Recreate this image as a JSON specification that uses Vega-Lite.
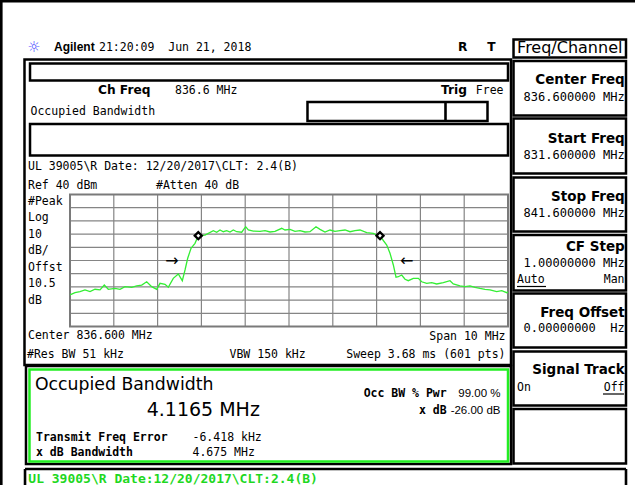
{
  "$schema": "https://vega.github.io/schema/vega-lite/v6.json",
  "width": 635,
  "height": 485,
  "autosize": {"type": "fit", "contains": "padding"},
  "padding": 0,
  "background": "white",
  "config": {"view": {"stroke": null}},
  "datasets": {
    "trace": [
      {"x":831.600,"y":-36.1},{"x":831.714,"y":-34.4},{"x":831.828,"y":-33.6},{"x":831.942,"y":-32.3},
      {"x":832.057,"y":-33.6},{"x":832.171,"y":-31.8},{"x":832.285,"y":-32.3},{"x":832.383,"y":-28.6},
      {"x":832.474,"y":-31.8},{"x":832.627,"y":-31.1},{"x":832.742,"y":-31.8},{"x":832.856,"y":-29.8},
      {"x":833.009,"y":-30.3},{"x":833.123,"y":-29.3},{"x":833.237,"y":-28.6},{"x":833.351,"y":-26.1},
      {"x":833.465,"y":-29.8},{"x":833.579,"y":-31.8},{"x":833.655,"y":-27.3},{"x":833.769,"y":-28.0},
      {"x":833.844,"y":-30.3},{"x":833.958,"y":-23.5},{"x":834.073,"y":-20.2},{"x":834.164,"y":-25.3},
      {"x":834.226,"y":-17.2},{"x":834.287,"y":-8.3},{"x":834.363,"y":-0.8},{"x":834.454,"y":3.0},
      {"x":834.529,"y":8.8},{"x":834.682,"y":9.3},{"x":834.872,"y":12.6},{"x":834.949,"y":11.4},
      {"x":835.025,"y":13.1},{"x":835.100,"y":11.8},{"x":835.178,"y":12.6},{"x":835.253,"y":11.6},
      {"x":835.328,"y":13.1},{"x":835.406,"y":11.8},{"x":835.520,"y":11.4},{"x":835.611,"y":15.6},
      {"x":835.671,"y":13.1},{"x":835.785,"y":12.3},{"x":835.938,"y":12.1},{"x":836.052,"y":12.6},
      {"x":836.166,"y":11.6},{"x":836.280,"y":12.1},{"x":836.433,"y":14.4},{"x":836.509,"y":13.1},
      {"x":836.623,"y":13.6},{"x":836.737,"y":12.1},{"x":836.851,"y":12.6},{"x":836.965,"y":11.6},
      {"x":837.079,"y":11.8},{"x":837.216,"y":15.6},{"x":837.308,"y":13.6},{"x":837.422,"y":11.6},
      {"x":837.536,"y":13.1},{"x":837.650,"y":12.1},{"x":837.764,"y":12.6},{"x":837.879,"y":13.1},
      {"x":837.993,"y":11.8},{"x":838.107,"y":12.6},{"x":838.221,"y":13.1},{"x":838.374,"y":11.1},
      {"x":838.525,"y":10.6},{"x":838.602,"y":9.3},{"x":838.716,"y":6.8},{"x":838.831,"y":1.7},
      {"x":838.906,"y":-4.5},{"x":838.982,"y":-13.4},{"x":839.043,"y":-22.7},{"x":839.096,"y":-22.3},
      {"x":839.173,"y":-21.0},{"x":839.249,"y":-24.2},{"x":839.324,"y":-25.3},{"x":839.438,"y":-23.5},
      {"x":839.553,"y":-23.5},{"x":839.630,"y":-26.1},{"x":839.744,"y":-27.3},{"x":839.858,"y":-26.8},
      {"x":839.972,"y":-27.8},{"x":840.123,"y":-26.8},{"x":840.276,"y":-25.3},{"x":840.351,"y":-27.8},
      {"x":840.504,"y":-29.3},{"x":840.618,"y":-29.8},{"x":840.732,"y":-29.3},{"x":840.847,"y":-30.3},
      {"x":840.961,"y":-31.1},{"x":841.075,"y":-31.8},{"x":841.189,"y":-32.3},{"x":841.342,"y":-33.6},
      {"x":841.457,"y":-32.9},{"x":841.570,"y":-34.4},{"x":841.600,"y":-33.6}
    ],
    "grid": [
      {"x":832.6,"x2":832.6,"y":-60,"y2":40},{"x":833.6,"x2":833.6,"y":-60,"y2":40},
      {"x":834.6,"x2":834.6,"y":-60,"y2":40},{"x":835.6,"x2":835.6,"y":-60,"y2":40},
      {"x":836.6,"x2":836.6,"y":-60,"y2":40},{"x":837.6,"x2":837.6,"y":-60,"y2":40},
      {"x":838.6,"x2":838.6,"y":-60,"y2":40},{"x":839.6,"x2":839.6,"y":-60,"y2":40},
      {"x":840.6,"x2":840.6,"y":-60,"y2":40},
      {"x":831.6,"x2":841.6,"y":30,"y2":30},{"x":831.6,"x2":841.6,"y":20,"y2":20},
      {"x":831.6,"x2":841.6,"y":10,"y2":10},{"x":831.6,"x2":841.6,"y":0,"y2":0},
      {"x":831.6,"x2":841.6,"y":-10,"y2":-10},{"x":831.6,"x2":841.6,"y":-20,"y2":-20},
      {"x":831.6,"x2":841.6,"y":-30,"y2":-30},{"x":831.6,"x2":841.6,"y":-40,"y2":-40},
      {"x":831.6,"x2":841.6,"y":-50,"y2":-50}
    ],
    "frames": [
      {"name":"main","x":830.561,"x2":841.669,"y":142.27,"y2":-89.17},
      {"name":"box1","x":830.687,"x2":841.6,"y":139.24,"y2":126.36},
      {"name":"box2","x":830.687,"x2":841.6,"y":93.41,"y2":69.55},
      {"name":"trigbox","x":837.022,"x2":841.132,"y":110.08,"y2":95.68},
      {"name":"menu","x":841.726,"x2":844.294,"y":157.42,"y2":143.79},
      {"name":"k1","x":841.726,"x2":844.294,"y":141.14,"y2":99.85},
      {"name":"k2","x":841.726,"x2":844.294,"y":97.58,"y2":55.91},
      {"name":"k3","x":841.726,"x2":844.294,"y":52.88,"y2":11.97},
      {"name":"k4","x":841.726,"x2":844.294,"y":9.32,"y2":-32.73},
      {"name":"k5","x":841.726,"x2":844.294,"y":-35.0,"y2":-75.91},
      {"name":"k6","x":841.726,"x2":844.294,"y":-78.94,"y2":-119.85},
      {"name":"k7","x":841.726,"x2":844.294,"y":-122.5,"y2":-163.79},
      {"name":"occ","x":830.595,"x2":841.669,"y":-89.92,"y2":-164.17}
    ],
    "rules": [
      {"x":830.0018,"x2":844.4995,"y":186.36,"y2":186.36},
      {"x":830.0315,"x2":830.0315,"y":187.35,"y2":-180.08},
      {"x":830.573,"x2":844.294,"y":-167.95,"y2":-167.95},
      {"x":830.573,"x2":830.573,"y":-167.95,"y2":-180.08},
      {"x":844.294,"x2":844.294,"y":-167.95,"y2":-180.08},
      {"x":840.173,"x2":840.173,"y":110.08,"y2":95.68}
    ]
  },
  "encoding": {
    "x": {"field":"x","type":"quantitative","scale":{"domain":[830.0018,844.4995],"nice":false,"zero":false},"axis":null},
    "y": {"field":"y","type":"quantitative","scale":{"domain":[-180.08,187.35],"nice":false,"zero":false},"axis":null}
  },
  "layer": [
    {
      "data": {"name":"grid"},
      "mark": {"type":"rule","color":"#858585","strokeWidth":1.2,"clip":true},
      "encoding": {"x2":{"field":"x2"},"y2":{"field":"y2"}}
    },
    {
      "data": {"values":[{"x":831.6,"x2":841.6,"y":40,"y2":-60}]},
      "mark": {"type":"rect","filled":false,"fill":"transparent","stroke":"#7a7a7a","strokeWidth":2,"clip":true},
      "encoding": {"x2":{"field":"x2"},"y2":{"field":"y2"}}
    },
    {
      "data": {"name":"trace"},
      "mark": {"type":"line","color":"#33ee33","strokeWidth":1.3,"clip":true}
    },
    {
      "data": {"values":[{"x":834.529,"y":8.8},{"x":838.678,"y":8.8}]},
      "mark": {"type":"point","shape":"diamond","filled":true,"fill":"white","stroke":"black","strokeWidth":2.3,"size":50,"opacity":1,"clip":true}
    },
    {
      "data": {"name":"frames"},
      "mark": {"type":"rect","filled":false,"fill":"transparent","stroke":"#000","strokeWidth":2.5,"clip":true},
      "encoding": {"x2":{"field":"x2"},"y2":{"field":"y2"}}
    },
    {
      "data": {"values":[{"x":830.675,"x2":841.6,"y":-92.58,"y2":-162.27}]},
      "mark": {"type":"rect","filled":false,"fill":"transparent","stroke":"#22ee22","strokeWidth":2.5,"clip":true},
      "encoding": {"x2":{"field":"x2"},"y2":{"field":"y2"}}
    },
    {
      "data": {"name":"rules"},
      "mark": {"type":"rule","color":"#000","strokeWidth":2.6,"clip":true},
      "encoding": {"x2":{"field":"x2"},"y2":{"field":"y2"}}
    },
    {
      "data": {"values":[{"x":841.806,"x2":842.468,"y":-29.70,"y2":-29.70},{"x":843.769,"x2":844.248,"y":-111.14,"y2":-111.14}]},
      "mark": {"type":"rule","color":"#000","strokeWidth":1.2,"clip":true},
      "encoding": {"x2":{"field":"x2"},"y2":{"field":"y2"}}
    },
    {
      "data": {"values":[{"t":"→","x":833.929,"y":-10.38},{"t":"←","x":839.287,"y":-10.38}]},
      "mark": {"type":"text","font":"DejaVu Sans","fontSize":16,"align":"center","baseline":"middle","color":"#000","clip":true},
      "encoding": {"text":{"field":"t"}}
    },
    {
      "data": {"values":[
        {"t":"21:20:09\u00a0 Jun 21, 2018","x":832.262,"y":148.71},
        {"t":"836.6 MHz","x":833.997,"y":115.76},
        {"t":"Occupied Bandwidth","x":830.698,"y":100.23},
        {"t":"UL 39005\\R Date: 12/20/2017\\CLT: 2.4(B)","x":830.641,"y":58.56},
        {"t":"Ref 40 dBm","x":830.641,"y":43.79},
        {"t":"#Atten 40 dB","x":833.563,"y":43.79},
        {"t":"#Peak","x":830.641,"y":32.05},
        {"t":"Log","x":830.641,"y":19.55},
        {"t":"10","x":830.641,"y":7.05},
        {"t":"dB/","x":830.641,"y":-5.45},
        {"t":"Offst","x":830.641,"y":-17.95},
        {"t":"10.5","x":830.641,"y":-30.45},
        {"t":"dB","x":830.641,"y":-42.95},
        {"t":"Center 836.600 MHz","x":830.641,"y":-69.85},
        {"t":"#Res BW 51 kHz","x":830.618,"y":-84.24},
        {"t":"VBW 150 kHz","x":835.242,"y":-84.24},
        {"t":"-6.418 kHz","x":834.397,"y":-146.74},
        {"t":"4.675 MHz","x":834.397,"y":-158.11},
        {"t":"Auto","x":841.806,"y":-27.42},
        {"t":"On","x":841.806,"y":-108.86}
      ]},
      "mark": {"type":"text","font":"DejaVu Sans Mono","fontSize":11.5,"align":"left","baseline":"alphabetic","color":"#000","clip":true},
      "encoding": {"text":{"field":"t"}}
    },
    {
      "data": {"values":[
        {"t":"Free","x":841.497,"y":115.76},
        {"t":"Span 10 MHz","x":841.543,"y":-70.23},
        {"t":"Sweep 3.68 ms (601 pts)","x":841.543,"y":-84.24},
        {"t":"Man","x":844.260,"y":-27.42},
        {"t":"Off","x":844.260,"y":-108.86}
      ]},
      "mark": {"type":"text","font":"DejaVu Sans Mono","fontSize":11.5,"align":"right","baseline":"alphabetic","color":"#000","clip":true},
      "encoding": {"text":{"field":"t"}}
    },
    {
      "data": {"values":[
        {"t":"99.00 %","x":841.429,"y":-113.41},
        {"t":"-26.00 dB","x":841.429,"y":-126.29}
      ]},
      "mark": {"type":"text","font":"Liberation Sans","fontSize":11.5,"align":"right","baseline":"alphabetic","color":"#000","clip":true},
      "encoding": {"text":{"field":"t"}}
    },
    {
      "data": {"values":[
        {"t":"836.600000 MHz","x":844.265,"y":110.83},
        {"t":"831.600000 MHz","x":844.265,"y":67.27},
        {"t":"841.600000 MHz","x":844.265,"y":22.58},
        {"t":"1.00000000 MHz","x":844.265,"y":-15.30},
        {"t":"0.00000000\u00a0 Hz","x":844.265,"y":-64.17}
      ]},
      "mark": {"type":"text","font":"DejaVu Sans Mono","fontSize":12,"align":"right","baseline":"alphabetic","color":"#000","clip":true},
      "encoding": {"text":{"field":"t"}}
    },
    {
      "data": {"values":[
        {"t":"Center Freq","x":844.265,"y":123.71},
        {"t":"Start Freq","x":844.265,"y":79.39},
        {"t":"Stop Freq","x":844.265,"y":34.70},
        {"t":"CF Step","x":844.265,"y":-3.18},
        {"t":"Freq Offset","x":844.265,"y":-53.18},
        {"t":"Signal Track","x":844.265,"y":-95.61}
      ]},
      "mark": {"type":"text","font":"DejaVu Sans","fontWeight":"bold","fontSize":13.5,"align":"right","baseline":"alphabetic","color":"#000","clip":true},
      "encoding": {"text":{"field":"t"}}
    },
    {
      "data": {"values":[
        {"t":"R","x":840.675,"y":148.71},
        {"t":"T","x":841.315,"y":148.71},
        {"t":"Trig","x":840.664,"y":115.76}
      ]},
      "mark": {"type":"text","font":"DejaVu Sans","fontWeight":"bold","fontSize":12.2,"align":"right","baseline":"alphabetic","color":"#000","clip":true},
      "encoding": {"text":{"field":"t"}}
    },
    {
      "data": {"values":[{"t":"Ch Freq","x":832.239,"y":115.76}]},
      "mark": {"type":"text","font":"DejaVu Sans","fontWeight":"bold","fontSize":12.2,"align":"left","baseline":"alphabetic","color":"#000","clip":true},
      "encoding": {"text":{"field":"t"}}
    },
    {
      "data": {"values":[{"t":"Agilent","x":831.235,"y":148.71}]},
      "mark": {"type":"text","font":"Liberation Sans","fontWeight":"bold","fontSize":12,"align":"left","baseline":"alphabetic","color":"#000","clip":true},
      "encoding": {"text":{"field":"t"}}
    },
    {
      "data": {"values":[{"t":"☼","x":830.778,"y":152.12}]},
      "mark": {"type":"text","font":"DejaVu Sans","fontSize":15,"align":"center","baseline":"middle","color":"#4a4aff","clip":true},
      "encoding": {"text":{"field":"t"}}
    },
    {
      "data": {"values":[{"t":"Freq/Channel","x":843.010,"y":146.82}]},
      "mark": {"type":"text","font":"DejaVu Sans","fontSize":16,"align":"center","baseline":"alphabetic","color":"#000","clip":true},
      "encoding": {"text":{"field":"t"}}
    },
    {
      "data": {"values":[{"t":"Occupied Bandwidth","x":830.801,"y":-108.11}]},
      "mark": {"type":"text","font":"DejaVu Sans","fontSize":17.3,"align":"left","baseline":"alphabetic","color":"#000","clip":true},
      "encoding": {"text":{"field":"t"}}
    },
    {
      "data": {"values":[{"t":"4.1165 MHz","x":833.351,"y":-128.18}]},
      "mark": {"type":"text","font":"DejaVu Sans","fontSize":19,"align":"left","baseline":"alphabetic","color":"#000","clip":true},
      "encoding": {"text":{"field":"t"}}
    },
    {
      "data": {"values":[
        {"t":"Transmit Freq Error","x":830.824,"y":-146.74},
        {"t":"x dB Bandwidth","x":830.824,"y":-158.11}
      ]},
      "mark": {"type":"text","font":"DejaVu Sans Mono","fontWeight":"bold","fontSize":11.5,"align":"left","baseline":"alphabetic","color":"#000","clip":true},
      "encoding": {"text":{"field":"t"}}
    },
    {
      "data": {"values":[
        {"t":"Occ BW % Pwr","x":840.201,"y":-113.41},
        {"t":"x dB","x":840.201,"y":-126.29}
      ]},
      "mark": {"type":"text","font":"DejaVu Sans Mono","fontWeight":"bold","fontSize":11.5,"align":"right","baseline":"alphabetic","color":"#000","clip":true},
      "encoding": {"text":{"field":"t"}}
    },
    {
      "data": {"values":[{"t":"UL 39005\\R Date:12/20/2017\\CLT:2.4(B)","x":830.648,"y":-178.79}]},
      "mark": {"type":"text","font":"DejaVu Sans Mono","fontWeight":"bold","fontSize":13,"align":"left","baseline":"alphabetic","color":"#1fd81f","clip":true},
      "encoding": {"text":{"field":"t"}}
    }
  ]
}
